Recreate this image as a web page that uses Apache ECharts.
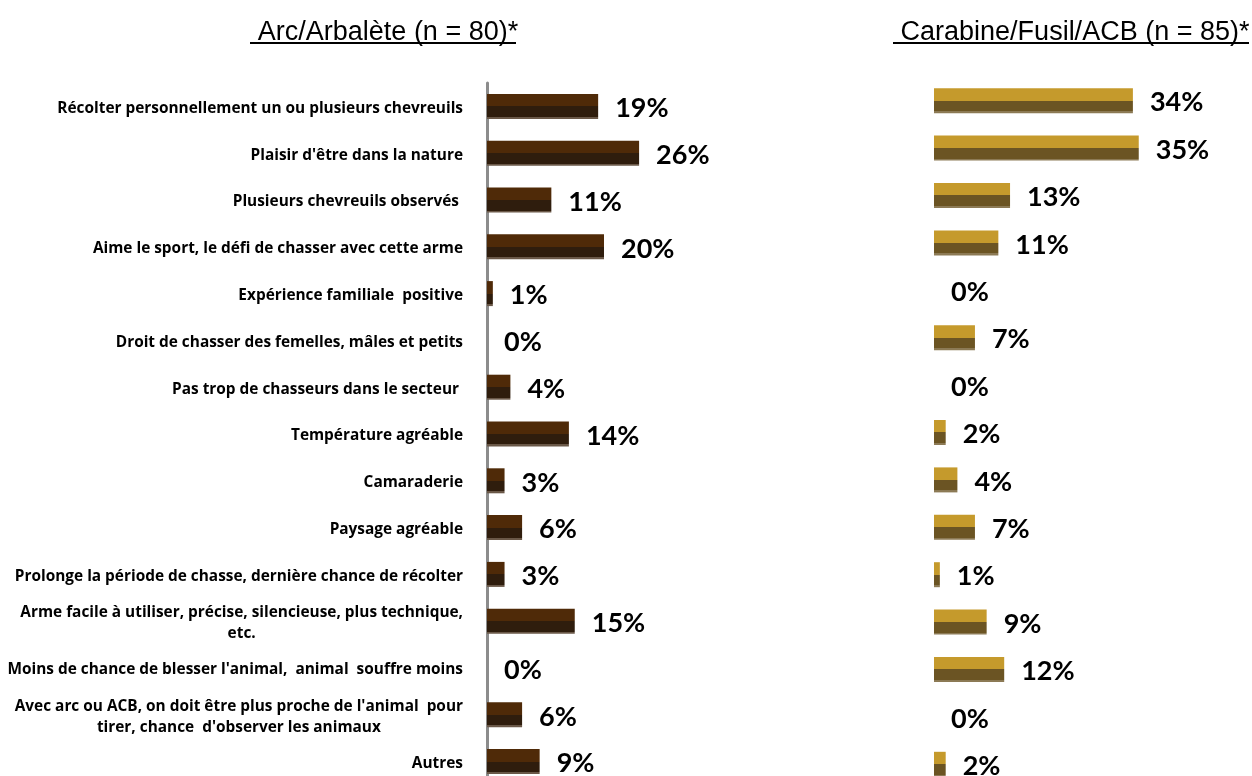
<!DOCTYPE html>
<html>
<head>
<meta charset="utf-8">
<script src="https://cdn.jsdelivr.net/npm/echarts@6/dist/echarts.min.js"></script>
<style>
  html, body { margin: 0; padding: 0; background: #fff; overflow: hidden; }
  #chart { width: 1252px; height: 800px; }
</style>
</head>
<body>
<div id="chart"></div>
<script>
// categories (top to bottom)
const categories = [
  'Récolter personnellement un ou plusieurs chevreuils',
  "Plaisir d'être dans la nature",
  'Plusieurs chevreuils observés ',
  'Aime le sport, le défi de chasser avec cette arme',
  'Expérience familiale  positive',
  'Droit de chasser des femelles, mâles et petits',
  'Pas trop de chasseurs dans le secteur ',
  'Température agréable',
  'Camaraderie',
  'Paysage agréable',
  'Prolonge la période de chasse, dernière chance de récolter',
  'Arme facile à utiliser, précise, silencieuse, plus technique,\netc.',
  "Moins de chance de blesser l'animal,  animal  souffre moins",
  "Avec arc ou ACB, on doit être plus proche de l'animal  pour\ntirer, chance  d'observer les animaux",
  'Autres'
]
const arcValues = [19, 26, 11, 20, 1, 0, 4, 14, 3, 6, 3, 15, 0, 6, 9]
const carabineValues = [34, 35, 13, 11, 0, 7, 0, 2, 4, 7, 1, 9, 12, 0, 2]
const arcTitle = 'Arc/Arbalète (n = 80)*'
const carabineTitle = 'Carabine/Fusil/ACB (n = 85)*'

const catFont = '"Open Sans", "Noto Sans", sans-serif'
const valueFont = 'Lato, "Open Sans", sans-serif'
const titleFont = '"Liberation Sans Narrow", "Liberation Sans", Arial, sans-serif'

// flat imitation of the bevelled bars: light top, dark middle, thin greyish bottom edge
function bevel(top, bottom, edge) {
  return new echarts.graphic.LinearGradient(0, 0, 0, 1, [
    { offset: 0, color: top },
    { offset: 0.5, color: top },
    { offset: 0.5, color: bottom },
    { offset: 0.92, color: bottom },
    { offset: 0.92, color: edge },
    { offset: 1, color: edge }
  ])
}

function valueLabel() {
  return {
    show: true,
    position: 'right',
    distance: 17,
    offset: [0, 2],
    formatter: '{c}%',
    color: '#000',
    fontFamily: valueFont,
    fontWeight: 'bold',
    fontSize: 27
  }
}

const chart = echarts.init(document.getElementById('chart'))

chart.setOption({
  animation: false,
  title: [
    {
      text: arcTitle, left: 383, top: 14, textAlign: 'center',
      textStyle: { fontFamily: titleFont, fontWeight: 'normal', fontSize: 27, color: '#000' }
    },
    {
      text: carabineTitle, left: 1070, top: 14, textAlign: 'center',
      textStyle: { fontFamily: titleFont, fontWeight: 'normal', fontSize: 27, color: '#000' }
    }
  ],
  // title underlines
  graphic: [
    { type: 'rect', shape: { x: 250, y: 42, width: 266, height: 2 }, style: { fill: '#000' } },
    { type: 'rect', shape: { x: 893, y: 42, width: 356, height: 2 }, style: { fill: '#000' } }
  ],
  grid: [
    { left: 487, top: 83, width: 234, height: 702 },
    { left: 934, top: 77, width: 234, height: 711 }
  ],
  xAxis: [
    { gridIndex: 0, type: 'value', min: 0, max: 40, show: false },
    { gridIndex: 1, type: 'value', min: 0, max: 40, show: false }
  ],
  yAxis: [
    {
      gridIndex: 0,
      type: 'category',
      inverse: true,
      offset: 2,
      data: categories,
      axisLine: { show: true, lineStyle: { color: '#8c8c8c', width: 3 } },
      axisTick: { show: false },
      axisLabel: {
        margin: 22,
        color: '#000',
        fontFamily: catFont,
        fontWeight: 'bold',
        fontSize: 15.4,
        padding: [4, 0, 0, 0],
        formatter: function (v) {
          if (v.indexOf('\n') < 0) return v
          return v.split('\n').map(function (l) { return '{c|' + l + '}' }).join('\n')
        },
        rich: {
          c: { align: 'center', fontFamily: catFont, fontWeight: 'bold', fontSize: 15.4, color: '#000', lineHeight: 21 }
        }
      }
    },
    {
      gridIndex: 1,
      type: 'category',
      inverse: true,
      data: categories,
      axisLine: { show: false },
      axisTick: { show: false },
      axisLabel: { show: false }
    }
  ],
  series: [
    {
      name: arcTitle,
      type: 'bar',
      xAxisIndex: 0,
      yAxisIndex: 0,
      data: arcValues,
      barWidth: 25,
      itemStyle: { color: bevel('#4f2a08', '#2f1d0d', '#6a5848') },
      label: valueLabel()
    },
    {
      name: carabineTitle,
      type: 'bar',
      xAxisIndex: 1,
      yAxisIndex: 1,
      data: carabineValues,
      barWidth: 25,
      itemStyle: { color: bevel('#c59a2c', '#6b5423', '#8c7a55') },
      label: valueLabel()
    }
  ]
})
</script>
</body>
</html>
